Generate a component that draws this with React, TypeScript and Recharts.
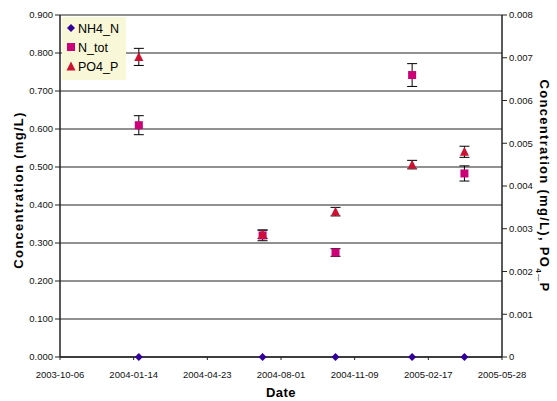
import React from "react";
import {
  ComposedChart,
  Scatter,
  XAxis,
  YAxis,
  CartesianGrid,
  ErrorBar,
} from "recharts";

// tick labels on the date axis (every 100 days)
const dateTicks = [
  "2003-10-06",
  "2004-01-14",
  "2004-04-23",
  "2004-08-01",
  "2004-11-09",
  "2005-02-17",
  "2005-05-28",
];

// sampling dates
const sampleDates = [
  "2004-01-21",
  "2004-07-07",
  "2004-10-14",
  "2005-01-26",
  "2005-04-07",
];

const nh4N = [0, 0, 0, 0, 0];
const nTot = [0.61, 0.32, 0.275, 0.742, 0.483];
const nTotErr = [0.025, 0.014, 0.01, 0.03, 0.02];
const po4P = [0.00702, 0.00287, 0.0034, 0.0045, 0.0048];
const po4PErr = [0.0002, 0.0001, 0.0001, 0.0001, 0.00013];

const leftTicks = [0, 0.1, 0.2, 0.3, 0.4, 0.5, 0.6, 0.7, 0.8, 0.9];
const rightTicks = [0, 0.001, 0.002, 0.003, 0.004, 0.005, 0.006, 0.007, 0.008];

const DAY = 86400000;
const origin = Date.parse(dateTicks[0] + "T00:00:00Z");
// days since first tick date
const toDay = (s: string) => Math.round((Date.parse(s + "T00:00:00Z") - origin) / DAY);
const fmtDay = (d: number) => new Date(origin + d * DAY).toISOString().slice(0, 10);

const build = (vals: number[], errs?: number[]) =>
  sampleDates.map((d, i) => ({
    x: toDay(d),
    y: vals[i],
    err: errs ? errs[i] : 0,
  }));

const nh4Data = build(nh4N);
const nTotData = build(nTot, nTotErr);
const po4Data = build(po4P, po4PErr);

const Diamond = (p: any) => {
  const { cx, cy } = p;
  const r = 4;
  return (
    <polygon
      points={`${cx},${cy - r} ${cx + r},${cy} ${cx},${cy + r} ${cx - r},${cy}`}
      fill="#330099"
    />
  );
};

const Square = (p: any) => {
  const { cx, cy } = p;
  return <rect x={cx - 4} y={cy - 4} width={8} height={8} fill="#CC0077" />;
};

const Triangle = (p: any) => {
  const { cx, cy } = p;
  return (
    <polygon
      points={`${cx},${cy - 5} ${cx + 4.5},${cy + 4} ${cx - 4.5},${cy + 4}`}
      fill="#CC1133"
    />
  );
};

const font = "'Liberation Sans', Arial, sans-serif";
const tickStyle = { fill: "#111", fontSize: 9.5, fontFamily: font };

const titleStyle: React.CSSProperties = {
  position: "absolute",
  whiteSpace: "nowrap",
  fontFamily: font,
  fontWeight: "bold",
  fontSize: 13,
  letterSpacing: 1.3,
};

const App = () => {
  return (
    <div style={{ position: "absolute", left: 0, top: 0, width: 557, height: 401, background: "#fff" }}>
      <ComposedChart
        width={557}
        height={401}
        margin={{ top: 15, right: 0, left: 0, bottom: 0 }}
      >
        <CartesianGrid vertical={false} yAxisId="left" stroke="#222" strokeWidth={1} />
        <XAxis
          type="number"
          dataKey="x"
          domain={[0, toDay(dateTicks[dateTicks.length - 1])]}
          ticks={dateTicks.map(toDay)}
          tickFormatter={fmtDay}
          tick={tickStyle}
          tickSize={3}
          tickMargin={11}
          axisLine={{ stroke: "#222", strokeWidth: 1.5 }}
          tickLine={{ stroke: "#222" }}
          height={44}
          allowDataOverflow
        />
        <YAxis
          yAxisId="left"
          type="number"
          dataKey="y"
          domain={[0, 0.9]}
          ticks={leftTicks}
          tickFormatter={(v: number) => v.toFixed(3)}
          tick={tickStyle}
          tickSize={5}
          axisLine={{ stroke: "#222", strokeWidth: 1.5 }}
          tickLine={{ stroke: "#222" }}
          width={60}
        />
        <YAxis
          yAxisId="right"
          type="number"
          orientation="right"
          dataKey="y"
          domain={[0, 0.008]}
          ticks={rightTicks}
          tickFormatter={(v: number) => (v === 0 ? "0" : v.toFixed(3))}
          tick={tickStyle}
          tickSize={5}
          axisLine={{ stroke: "#222", strokeWidth: 1.5 }}
          tickLine={{ stroke: "#222" }}
          width={55}
        />
        <Scatter
          name="NH4_N"
          yAxisId="left"
          data={nh4Data}
          shape={<Diamond />}
          isAnimationActive={false}
        />
        <Scatter
          name="N_tot"
          yAxisId="left"
          data={nTotData}
          shape={<Square />}
          isAnimationActive={false}
        >
          <ErrorBar dataKey="err" direction="y" width={5} stroke="#000" strokeWidth={1} />
        </Scatter>
        <Scatter
          name="PO4_P"
          yAxisId="right"
          data={po4Data}
          shape={<Triangle />}
          isAnimationActive={false}
        >
          <ErrorBar dataKey="err" direction="y" width={5} stroke="#000" strokeWidth={1} />
        </Scatter>
      </ComposedChart>

      {/* legend box */}
      <div
        style={{
          position: "absolute",
          left: 62,
          top: 17,
          width: 60,
          padding: "3px 0 3px 4px",
          background: "#F8F8D8",
          fontFamily: font,
          fontSize: 12.5,
          lineHeight: "19px",
          color: "#000",
        }}
      >
        <div>
          <svg width={10} height={10} style={{ marginRight: 2 }}>
            <polygon points="5,1 9,5 5,9 1,5" fill="#330099" />
          </svg>
          NH4_N
        </div>
        <div>
          <svg width={10} height={10} style={{ marginRight: 2 }}>
            <rect x={1} y={1} width={8} height={8} fill="#CC0077" />
          </svg>
          N_tot
        </div>
        <div>
          <svg width={10} height={10} style={{ marginRight: 2 }}>
            <polygon points="5,0.5 9.5,9.5 0.5,9.5" fill="#CC1133" />
          </svg>
          PO4_P
        </div>
      </div>

      <div
        style={{
          ...titleStyle,
          left: 18,
          top: 190,
          transform: "translate(-50%, -50%) rotate(-90deg)",
        }}
      >
        Concentration (mg/L)
      </div>
      <div
        style={{
          ...titleStyle,
          left: 543,
          top: 186,
          transform: "translate(-50%, -50%) rotate(90deg)",
        }}
      >
        Concentration (mg/L), PO<sub style={{ fontSize: 8 }}>4</sub>_P
      </div>
      <div
        style={{
          ...titleStyle,
          left: 281,
          top: 392,
          letterSpacing: 0.5,
          transform: "translate(-50%, -50%)",
        }}
      >
        Date
      </div>
    </div>
  );
};

export default App;
